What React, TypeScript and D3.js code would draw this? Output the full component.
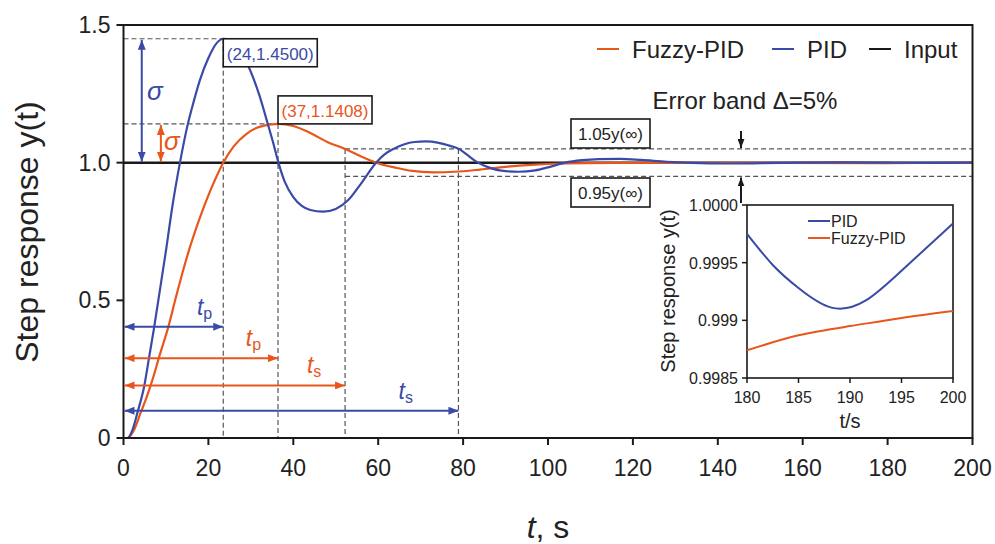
import React from 'react';
import * as d3 from 'd3';

const W = 995;
const H = 544;

// ---- data ----
const xTicks = [0, 20, 40, 60, 80, 100, 120, 140, 160, 180, 200];
const yTicks = [0, 0.5, 1.0, 1.5];
const yTickLabels = ['0', '0.5', '1.0', '1.5'];

const pidData: [number, number][] = [
  [0, 0], [0.9, 0], [2, 0.025], [3.3, 0.093], [4.9, 0.19], [6, 0.29], [7.2, 0.4], [8.5, 0.53],
  [10, 0.68], [11.5, 0.84], [13.3, 1.0], [15, 1.13], [16.5, 1.22], [18, 1.3], [20, 1.38],
  [22, 1.435], [23.5, 1.45], [25, 1.445], [27, 1.415], [30, 1.33], [32, 1.245], [34, 1.14],
  [35.3, 1.07], [36.5, 1.0], [38, 0.93], [40, 0.875], [42, 0.843], [44, 0.828], [47, 0.822],
  [50, 0.832], [53, 0.865], [56, 0.925], [59.5, 1.0], [61.5, 1.03], [63.6, 1.05], [66, 1.066],
  [68.5, 1.075], [71.3, 1.077], [74, 1.073], [76.5, 1.063], [79, 1.05], [81, 1.028], [83.5, 1.0],
  [86, 0.983], [89, 0.971], [93, 0.967], [97, 0.972], [100, 0.983], [104, 1.0], [108, 1.009],
  [112, 1.013], [117, 1.014], [122, 1.01], [128, 1.003], [134, 0.999], [142, 0.997], [150, 0.998],
  [160, 1.0], [170, 1.001], [180, 0.9998], [190, 0.9991], [200, 0.9998],
];

const fuzzyData: [number, number][] = [
  [0, 0], [1, 0], [2.5, 0.03], [4, 0.09], [5.5, 0.15], [7, 0.22], [8.5, 0.3], [10.5, 0.4],
  [12.5, 0.52], [15, 0.66], [18, 0.8], [20.5, 0.9], [23.5, 1.0], [26, 1.06], [29, 1.105],
  [32, 1.13], [36.4, 1.1408], [40, 1.133], [44, 1.108], [48, 1.075], [52.2, 1.05], [56, 1.022],
  [59.5, 1.0], [64, 0.982], [68, 0.97], [73, 0.965], [78, 0.967], [84, 0.975], [90, 0.985],
  [96, 0.992], [104, 0.997], [115, 0.999], [130, 0.9995], [180, 0.9987], [200, 0.9991],
];

const inputData: [number, number][] = [[0, 1], [200, 1]];

const insetXTicks = [180, 185, 190, 195, 200];
const insetYTicks = [0.9985, 0.999, 0.9995, 1.0];
const insetYTickLabels = ['0.9985', '0.999', '0.9995', '1.0000'];

const insetPid: [number, number][] = [
  [180, 0.99975], [182.5, 0.99948], [185, 0.99928], [188.2, 0.99911],
  [191.5, 0.99917], [195, 0.99943], [200, 0.99984],
];
const insetFuzzy: [number, number][] = [
  [180, 0.99874], [185, 0.99887], [190, 0.99895], [195, 0.99902], [200, 0.99908],
];

// peak markers
const pidPeak = { t: 23.5, y: 1.45, label: '(24,1.4500)' };
const fuzzyPeak = { t: 36.4, y: 1.1408, label: '(37,1.1408)' };
// settling times
const fuzzySettle = 52.2;
const pidSettle = 78.9;
const bandUpper = 1.05;
const bandLower = 0.95;

// horizontal time arrows: level, end time, series, subscript, label position (t)
const timeArrows = [
  { level: 0.404, t: 23.5, series: 'pid', sub: 'p', labelT: 17.3 },
  { level: 0.29, t: 36.4, series: 'fuzzy', sub: 'p', labelT: 28.8 },
  { level: 0.191, t: 52.2, series: 'fuzzy', sub: 's', labelT: 43.2 },
  { level: 0.099, t: 78.9, series: 'pid', sub: 's', labelT: 64.8 },
];
// sigma arrows
const sigmaArrows = [
  { t: 4.3, top: 1.45, series: 'pid' },
  { t: 8.8, top: 1.1408, series: 'fuzzy' },
];

const BLUE = '#3a4aa6';
const ORANGE = '#e8561c';
const BLACK = '#1a1a1a';
const DASH = '#555';
const FONT = 'Liberation Sans, Arial, Helvetica, sans-serif';

const colorOf = (s: string) => (s === 'pid' ? BLUE : ORANGE);

export default function App() {
  const x = d3.scaleLinear().domain([0, 200]).range([123.5, 972.5]);
  const y = d3.scaleLinear().domain([0, 1.5]).range([438, 25]);
  const xi = d3.scaleLinear().domain([180, 200]).range([747, 953]);
  const yi = d3.scaleLinear().domain([0.9985, 1.0]).range([378, 205]);

  const line = d3
    .line<[number, number]>()
    .x((d) => x(d[0]))
    .y((d) => y(d[1]))
    .curve(d3.curveMonotoneX);
  const lineI = d3
    .line<[number, number]>()
    .x((d) => xi(d[0]))
    .y((d) => yi(d[1]))
    .curve(d3.curveNatural);

  const dashProps = { stroke: DASH, strokeWidth: 1.2, strokeDasharray: '5,3', fill: 'none' };

  const marker = (id: string, color: string, len = 10, wid = 8) => (
    <marker
      id={id}
      markerUnits="userSpaceOnUse"
      markerWidth={len}
      markerHeight={wid}
      refX={len}
      refY={wid / 2}
      orient="auto-start-reverse"
      viewBox={`0 0 ${len} ${wid}`}
    >
      <path d={`M0,0 L${len},${wid / 2} L0,${wid} Z`} fill={color} />
    </marker>
  );

  return (
    <svg
      width={W}
      height={H}
      style={{ position: 'absolute', left: 0, top: 0, background: '#fff' }}
      fontFamily={FONT}
    >
      <defs>
        {marker('ab', BLUE)}
        {marker('ao', ORANGE)}
        {marker('ak', BLACK, 9, 7)}
      </defs>
      <rect x={0} y={0} width={W} height={H} fill="#fff" />

      {/* dashed guide lines */}
      <line x1={x(0)} x2={x(pidPeak.t)} y1={y(pidPeak.y)} y2={y(pidPeak.y)} {...dashProps} />
      <line x1={x(pidPeak.t)} x2={x(pidPeak.t)} y1={y(pidPeak.y)} y2={y(0)} {...dashProps} />
      <line x1={x(0)} x2={x(fuzzyPeak.t)} y1={y(fuzzyPeak.y)} y2={y(fuzzyPeak.y)} {...dashProps} />
      <line x1={x(fuzzyPeak.t)} x2={x(fuzzyPeak.t)} y1={y(fuzzyPeak.y)} y2={y(0)} {...dashProps} />
      <line x1={x(fuzzySettle)} x2={x(200)} y1={y(bandUpper)} y2={y(bandUpper)} {...dashProps} />
      <line x1={x(fuzzySettle)} x2={x(200)} y1={y(bandLower)} y2={y(bandLower)} {...dashProps} />
      <line x1={x(fuzzySettle)} x2={x(fuzzySettle)} y1={y(bandUpper)} y2={y(0)} {...dashProps} />
      <line x1={x(pidSettle)} x2={x(pidSettle)} y1={y(bandUpper)} y2={y(0)} {...dashProps} />

      {/* curves */}
      <path d={line(inputData) || ''} stroke={BLACK} strokeWidth={2.5} fill="none" />
      <path d={line(fuzzyData) || ''} stroke={ORANGE} strokeWidth={2.2} fill="none" />
      <path d={line(pidData) || ''} stroke={BLUE} strokeWidth={2.2} fill="none" />

      {/* frame */}
      <rect x={x(0)} y={y(1.5)} width={x(200) - x(0)} height={y(0) - y(1.5)} fill="none" stroke={BLACK} strokeWidth={2} />

      {/* x ticks */}
      {xTicks.map((t) => (
        <g key={'xt' + t}>
          <line x1={x(t)} x2={x(t)} y1={y(0)} y2={y(0) + 7} stroke={BLACK} strokeWidth={2} />
          <text x={x(t)} y={476} textAnchor="middle" fontSize={23} fill="#222">
            {t}
          </text>
        </g>
      ))}
      {/* y ticks */}
      {yTicks.map((v, i) => (
        <g key={'yt' + v}>
          <line x1={x(0) - 7} x2={x(0)} y1={y(v)} y2={y(v)} stroke={BLACK} strokeWidth={2} />
          <text x={x(0) - 13} y={y(v) + 8} textAnchor="end" fontSize={23} fill="#222">
            {yTickLabels[i]}
          </text>
        </g>
      ))}

      {/* axis titles */}
      <text x={548} y={538} textAnchor="middle" fontSize={32} fill="#222">
        <tspan fontStyle="italic">t</tspan>, s
      </text>
      <text transform="translate(38,232) rotate(-90)" textAnchor="middle" fontSize={32} fill="#222">
        Step response y(t)
      </text>

      {/* legend */}
      {[
        { label: 'Fuzzy-PID', color: ORANGE, x0: 597 },
        { label: 'PID', color: BLUE, x0: 772 },
        { label: 'Input', color: BLACK, x0: 869 },
      ].map((l) => (
        <g key={l.label}>
          <line x1={l.x0} x2={l.x0 + 22} y1={49} y2={49} stroke={l.color} strokeWidth={2} />
          <text x={l.x0 + 35} y={57.5} fontSize={24} fill="#222">
            {l.label}
          </text>
        </g>
      ))}

      {/* sigma arrows */}
      {sigmaArrows.map((s) => (
        <line
          key={'s' + s.t}
          x1={x(s.t)}
          x2={x(s.t)}
          y1={y(s.top) + 1}
          y2={y(1.0) - 1}
          stroke={colorOf(s.series)}
          strokeWidth={2}
          markerStart={`url(#${s.series === 'pid' ? 'ab' : 'ao'})`}
          markerEnd={`url(#${s.series === 'pid' ? 'ab' : 'ao'})`}
        />
      ))}
      <text x={147} y={100} fontSize={26} fontStyle="italic" fill={BLUE}>σ</text>
      <text x={164} y={150} fontSize={26} fontStyle="italic" fill={ORANGE}>σ</text>

      {/* time arrows */}
      {timeArrows.map((a) => (
        <g key={'ta' + a.level}>
          <line
            x1={x(0) + 1}
            x2={x(a.t)}
            y1={y(a.level)}
            y2={y(a.level)}
            stroke={colorOf(a.series)}
            strokeWidth={2}
            markerStart={`url(#${a.series === 'pid' ? 'ab' : 'ao'})`}
            markerEnd={`url(#${a.series === 'pid' ? 'ab' : 'ao'})`}
          />
          <text x={x(a.labelT)} y={y(a.level) - 12} fill={colorOf(a.series)} fontSize={23}>
            <tspan fontStyle="italic">t</tspan>
            <tspan fontSize={16} dy={4}>{a.sub}</tspan>
          </text>
        </g>
      ))}

      {/* peak boxes */}
      <rect x={x(pidPeak.t)} y={y(pidPeak.y)} width={94} height={28} fill="#fff" stroke={BLACK} strokeWidth={1.6} />
      <text x={x(pidPeak.t) + 47} y={y(pidPeak.y) + 21} textAnchor="middle" fontSize={17} fill={BLUE}>
        {pidPeak.label}
      </text>
      <rect x={x(fuzzyPeak.t)} y={y(fuzzyPeak.y) - 28} width={94} height={28} fill="#fff" stroke={BLACK} strokeWidth={1.6} />
      <text x={x(fuzzyPeak.t) + 47} y={y(fuzzyPeak.y) - 7} textAnchor="middle" fontSize={17} fill={ORANGE}>
        {fuzzyPeak.label}
      </text>

      {/* error band annotations */}
      <text x={745} y={109} textAnchor="middle" fontSize={24} fill="#222">Error band Δ=5%</text>
      <line x1={741} x2={741} y1={131} y2={y(bandUpper) - 1} stroke={BLACK} strokeWidth={2} markerEnd="url(#ak)" />
      <line x1={741} x2={741} y1={203} y2={y(bandLower) + 1} stroke={BLACK} strokeWidth={2} markerEnd="url(#ak)" />
      <rect x={571} y={119} width={79} height={29} fill="#fff" stroke={BLACK} strokeWidth={1.6} />
      <text x={610.5} y={139.5} textAnchor="middle" fontSize={17} fill="#222">1.05y(∞)</text>
      <rect x={571} y={178} width={79} height={29} fill="#fff" stroke={BLACK} strokeWidth={1.6} />
      <text x={610.5} y={198.5} textAnchor="middle" fontSize={17} fill="#222">0.95y(∞)</text>

      {/* inset */}
      <rect x={xi(180)} y={yi(1.0)} width={xi(200) - xi(180)} height={yi(0.9985) - yi(1.0)} fill="#fff" stroke={BLACK} strokeWidth={1.6} />
      <path d={lineI(insetPid) || ''} stroke={BLUE} strokeWidth={2} fill="none" />
      <path d={lineI(insetFuzzy) || ''} stroke={ORANGE} strokeWidth={2} fill="none" />
      {insetXTicks.map((t) => (
        <g key={'ixt' + t}>
          <line x1={xi(t)} x2={xi(t)} y1={yi(0.9985)} y2={yi(0.9985) + 5} stroke={BLACK} strokeWidth={1.5} />
          <text x={xi(t)} y={403} textAnchor="middle" fontSize={16} fill="#222">{t}</text>
        </g>
      ))}
      {insetYTicks.map((v, i) => (
        <g key={'iyt' + v}>
          <line x1={xi(180) - 5} x2={xi(180)} y1={yi(v)} y2={yi(v)} stroke={BLACK} strokeWidth={1.5} />
          <text x={xi(180) - 9} y={yi(v) + 6} textAnchor="end" fontSize={16} fill="#222">{insetYTickLabels[i]}</text>
        </g>
      ))}
      <text x={850} y={428} textAnchor="middle" fontSize={20} fill="#222">t/s</text>
      <text transform="translate(675,291) rotate(-90)" textAnchor="middle" fontSize={20} fill="#222">
        Step response y(t)
      </text>
      {[
        { label: 'PID', color: BLUE, yy: 221 },
        { label: 'Fuzzy-PID', color: ORANGE, yy: 238 },
      ].map((l) => (
        <g key={'il' + l.label}>
          <line x1={808} x2={830} y1={l.yy} y2={l.yy} stroke={l.color} strokeWidth={2} />
          <text x={831} y={l.yy + 5.5} fontSize={16} fill="#222">{l.label}</text>
        </g>
      ))}
    </svg>
  );
}
